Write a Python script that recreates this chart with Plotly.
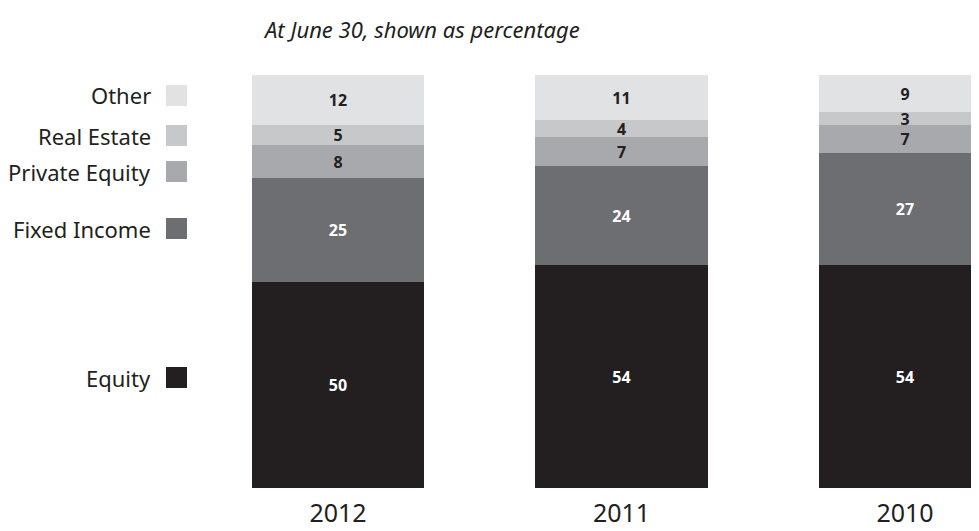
import plotly.graph_objects as go

years = ["2012", "2011", "2010"]
series_names = ["Equity", "Fixed Income", "Private Equity", "Real Estate", "Other"]
equity = [50, 54, 54]
fixed_income = [25, 24, 27]
private_equity = [8, 7, 7]
real_estate = [5, 4, 3]
other = [12, 11, 9]
series_values = [equity, fixed_income, private_equity, real_estate, other]

colors = ["#231f20", "#6d6e71", "#a7a9ac", "#c7c8ca", "#e1e2e4"]
text_colors = ["#ffffff", "#ffffff", "#231f20", "#231f20", "#231f20"]

# page body has an 8px margin; lay out in reference pixels minus that offset
OFF = 8
W, H = 979 - OFF, 531 - OFF
TOP, BOTTOM = 75 - OFF, 488 - OFF
FONT = "Noto Sans"

fig = go.Figure()
for name, vals, c, tc in zip(series_names, series_values, colors, text_colors):
    fig.add_trace(go.Bar(
        x=years, y=vals, name=name,
        marker=dict(color=c, line=dict(width=0)),
        width=0.61,
        text=vals, texttemplate="<b>%{text}</b>",
        textposition="inside", insidetextanchor="middle",
        textangle=0, constraintext="none",
        textfont=dict(family=FONT, size=16, color=tc),
        hoverinfo="skip",
    ))

# x-range chosen so bar centres fall at reference px 338 / 621.5 / 905
x_lo = (OFF - 338) / 283.5
x_hi = (979 - 338) / 283.5

legend_y_px = [377.5, 228.5, 171.5, 135.5, 95.5]
annotations = []
shapes = []
for name, c, py in zip(series_names, colors, legend_y_px):
    yp = (BOTTOM - (py - OFF)) / (BOTTOM - TOP)
    annotations.append(dict(
        x=(153 - OFF) / W, y=yp, xref="paper", yref="paper",
        text=name, showarrow=False, xanchor="right", yanchor="middle",
        font=dict(family=FONT, size=22, color="#231f20"),
    ))
    half = 10.5 / (BOTTOM - TOP)
    shapes.append(dict(
        type="rect", xref="paper", yref="paper",
        x0=(166 - OFF) / W, x1=(187 - OFF) / W, y0=yp - half, y1=yp + half,
        fillcolor=c, line=dict(width=0),
    ))

annotations.append(dict(
    x=(261 - OFF) / W, y=(BOTTOM - (29 - OFF)) / (BOTTOM - TOP),
    xref="paper", yref="paper",
    text="<i>At June 30, shown as percentage</i>", showarrow=False,
    xanchor="left", yanchor="middle",
    font=dict(family=FONT, size=22, color="#231f20"),
))

fig.update_layout(
    barmode="stack",
    width=W, height=H,
    margin=dict(l=0, r=0, t=TOP, b=H - BOTTOM, pad=0, autoexpand=False),
    paper_bgcolor="white", plot_bgcolor="white",
    showlegend=False,
    bargap=0,
    uniformtext=dict(minsize=16, mode="show"),
    xaxis=dict(
        type="category", range=[x_lo, x_hi], automargin=False,
        showgrid=False, zeroline=False, showline=False,
        ticks="outside", ticklen=0, tickcolor="white",
        ticklabelstandoff=3,
        tickfont=dict(family=FONT, size=25, color="#231f20"),
    ),
    yaxis=dict(
        range=[0, 100], visible=False, showgrid=False, zeroline=False,
        automargin=False,
    ),
    annotations=annotations,
    shapes=shapes,
)

fig.write_html("out.html")
